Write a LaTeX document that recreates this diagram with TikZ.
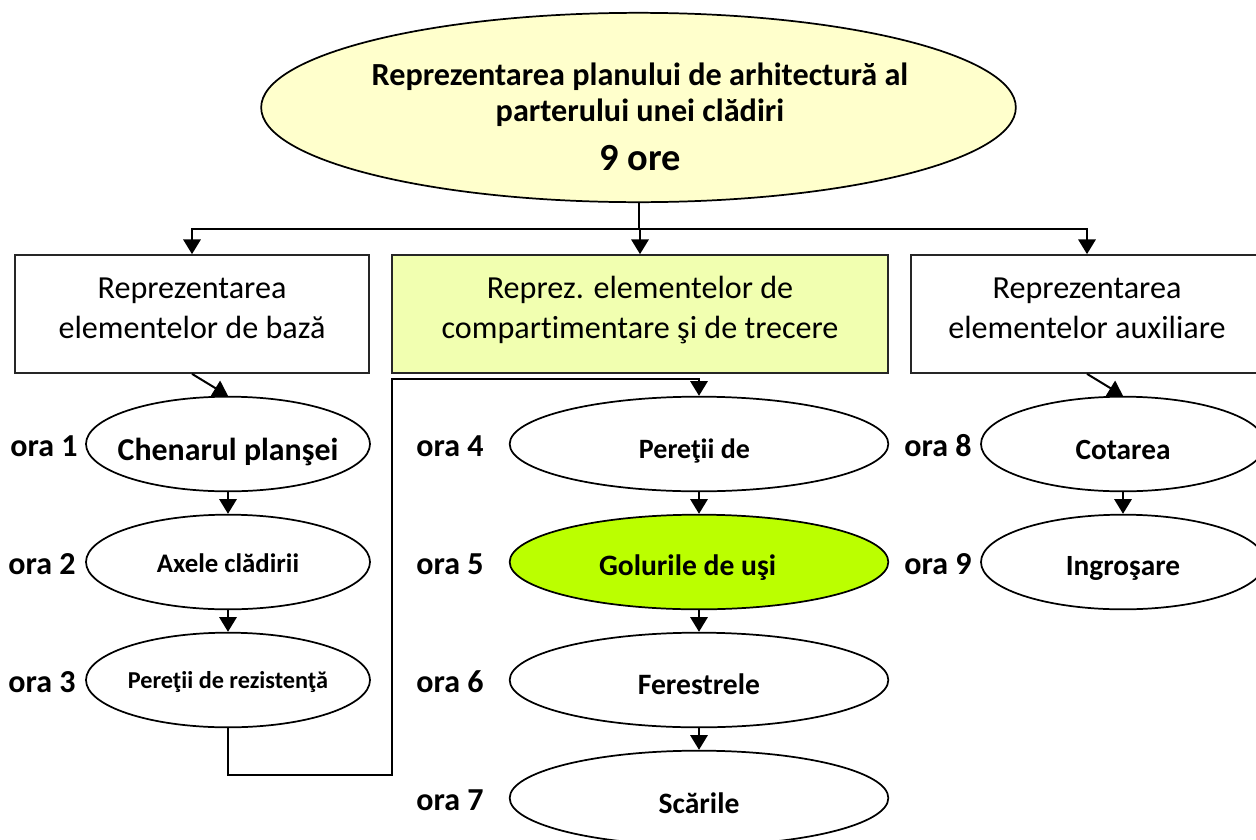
\documentclass[tikz,border=0pt]{standalone}
\usepackage{fontspec}
\setmainfont[Ligatures=NoCommon]{Carlito}
\usetikzlibrary{shapes.geometric,arrows.meta}
\definecolor{topfill}{HTML}{FFFFCC}
\definecolor{midfill}{HTML}{F1FFB0}
\definecolor{greenfill}{HTML}{BBFF00}
\definecolor{boxline}{HTML}{262626}
\newcommand\fs[1]{\fontsize{#1}{#1}\selectfont}
\newcommand\tx[2]{\makebox[0pt]{\raisebox{#1}[0pt][0pt]{#2}}}
\newcommand\boxtext[2]{\tx{-3.5pt}{\fontsize{24.1}{30}\selectfont\begin{tabular}[c]{@{}c@{}}#1\\#2\end{tabular}}}
\tikzset{
  x=0.75pt,y=-0.75pt,
  oval/.style={ellipse,draw=black,line width=1.3pt,inner sep=0pt,fill=white,minimum width=213pt,minimum height=71pt,font=\bfseries},
  wide/.style={oval,minimum width=284pt},
  boxn/.style={rectangle,draw=boxline,line width=1.3pt,inner sep=0pt,minimum height=88.5pt,fill=white},
  hour/.style={font=\fontsize{24}{24}\selectfont\bfseries,inner sep=0pt},
  conn/.style={draw=black,line width=1.5pt,-{Triangle[length=11pt,width=13pt]}},
  plainconn/.style={draw=black,line width=1.5pt}
}
\begin{document}
\begin{tikzpicture}
\path[use as bounding box] (0,0) rectangle (1256,839);
\clip (0,0) rectangle (1256,839);
\fill[white] (0,0) rectangle (1256,839);
\node[oval,fill=topfill,minimum width=566pt,minimum height=142pt] (top) at (638.5,107.5)
  {\tx{-16pt}{\hspace*{2.2pt}\fontsize{24.15}{27}\selectfont\begin{tabular}[c]{@{}c@{}}Reprezentarea planului de arhitectură al\\ parterului unei clădiri\\[9.5pt] \fontsize{28.8}{27}\selectfont 9 ore\end{tabular}}};
\node[boxn,minimum width=265.5pt] (b1) at (192,314) {\boxtext{Reprezentarea}{elementelor de bază}};
\node[boxn,fill=midfill,minimum width=372pt] (b2) at (640,314) {\boxtext{Reprez. elementelor de}{compartimentare şi de trecere}};
\node[boxn,minimum width=264pt] (b3) at (1087,314) {\boxtext{Reprezentarea}{elementelor auxiliare}};
\node[oval] (l1) at (228,444) {\tx{-12pt}{\fs{23.9}Chenarul planşei}};
\node[oval] (l2) at (228,562) {\tx{-7.5pt}{\fs{20.1}Axele clădirii}};
\node[oval] (l3) at (228,680) {\tx{-6.5pt}{\fs{18.2}Pereţii de rezistenţă}};
\node[wide] (m1) at (699,444) {\tx{-11pt}{\hspace*{-6.8pt}\fs{21}Pereţii de}};
\node[wide,fill=greenfill] (m2) at (699,562) {\tx{-10pt}{\hspace*{-17.2pt}\fs{22.2}Golurile de uşi}};
\node[wide] (m3) at (699,680) {\tx{-10.5pt}{\fs{22.2}Ferestrele}};
\node[wide] (m4) at (699,798) {\tx{-11.5pt}{\fs{22.2}Scările}};
\node[oval] (r1) at (1123,444) {\tx{-11.5pt}{\fs{22}Cotarea}};
\node[oval] (r2) at (1123,562) {\tx{-10pt}{\fs{22}Ingroşare}};
\node[hour] (h1) at (44,446) {ora 1};
\node[hour] (h2) at (42,564) {ora 2};
\node[hour] (h3) at (42,682) {ora 3};
\node[hour] (h4) at (450,446) {ora 4};
\node[hour] (h5) at (450,564) {ora 5};
\node[hour] (h6) at (450,682) {ora 6};
\node[hour] (h7) at (450,800) {ora 7};
\node[hour] (h8) at (938,446) {ora 8};
\node[hour] (h9) at (938,564) {ora 9};
\coordinate (bus) at (638.5,229);
\coordinate (lowbend) at (392,775);
\coordinate (highbend) at (392,379);
\draw[plainconn] (top.south) -- (bus);
\draw[conn] (bus) -| (b1.north);
\draw[conn] (bus) -| (b2.north);
\draw[conn] (bus) -| (b3.north);
\draw[conn] (b1.south) -- (l1.north);
\draw[conn] (b3.south) -- (r1.north);
\draw[conn] (l1.south) -- (l2.north);
\draw[conn] (l2.south) -- (l3.north);
\draw[conn] (m1.south) -- (m2.north);
\draw[conn] (m2.south) -- (m3.north);
\draw[conn] (m3.south) -- (m4.north);
\draw[conn] (r1.south) -- (r2.north);
\draw[conn] (l3.south) |- (lowbend) -- (highbend) -| (m1.north);
\end{tikzpicture}
\end{document}
